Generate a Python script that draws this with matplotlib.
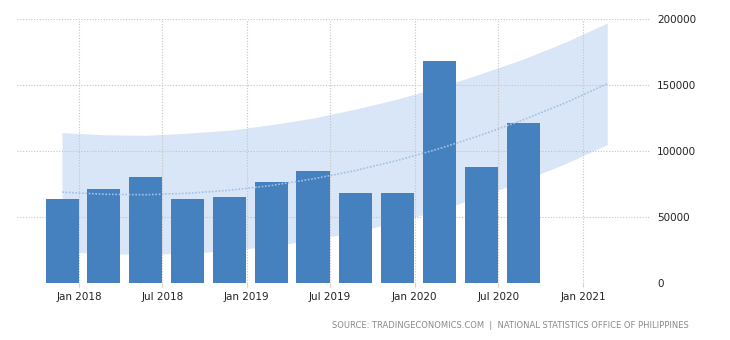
import numpy as np
import pandas as pd
import matplotlib
matplotlib.use('Agg')
import matplotlib.pyplot as plt
import matplotlib.dates as mdates

# quarterly values (quarter end dates)
quarters = ['2017-12-31', '2018-03-31', '2018-06-30', '2018-09-30',
            '2018-12-31', '2019-03-31', '2019-06-30', '2019-09-30',
            '2019-12-31', '2020-03-31', '2020-06-30', '2020-09-30']
values = [63800, 71400, 80400, 63800, 65300, 76700,
          85000, 68300, 68300, 168200, 88000, 121300]

# forecast band, one point per quarter Q4 2017 .. Q1 2021
band_quarters = quarters + ['2020-12-31', '2021-03-31']
band_mid = [69000, 67400, 67000, 68100, 70400, 74000, 79000,
            85300, 93000, 101900, 112200, 123800, 136700, 151000]
band_upper = [114000, 112400, 112000, 113600, 115900, 120000, 125000,
              131800, 139500, 148400, 158700, 169800, 182700, 197000]
band_lower = [24000, 22400, 22000, 22600, 24900, 28000, 33000,
              38800, 46500, 55400, 65700, 77800, 90700, 105000]

yticks = [0, 50000, 100000, 150000, 200000]
source = 'SOURCE: TRADINGECONOMICS.COM  |  NATIONAL STATISTICS OFFICE OF PHILIPPINES'

bar_color = '#4681bf'
band_color = '#d9e6f7'

fig = plt.figure(figsize=(7.3, 3.4), dpi=100)
ax = fig.add_axes([17 / 730, 1 - 283.3 / 340, (650 - 17) / 730, (283.3 - 19) / 340])

q_dates = pd.to_datetime(quarters)
bar_w = pd.Timedelta(days=72)
b_dates = pd.to_datetime(band_quarters) - bar_w / 2

ax.fill_between(b_dates, band_lower, band_upper, color=band_color, lw=0, zorder=1)
ax.bar(q_dates, values, width=-72, align='edge', color=bar_color, zorder=3)
ax.plot(b_dates, band_mid, color='#a4c0e6', lw=1.2, ls=(0, (1, 1)), zorder=4)

ax.set_ylim(0, 200000)
ax.set_xlim(pd.Timestamp('2017-08-19'), pd.Timestamp('2021-05-27'))
ax.set_yticks(yticks)
ax.yaxis.tick_right()
ax.set_yticklabels([str(v) for v in yticks])
ax.xaxis.set_major_locator(mdates.MonthLocator(bymonth=[1, 7]))
ax.xaxis.set_major_formatter(mdates.DateFormatter('%b %Y'))

ax.grid(True, color='#c4c4c4', ls=(0, (1, 1.5)), lw=0.8, zorder=2)
ax.set_axisbelow(False)
for sp in ax.spines.values():
    sp.set_visible(False)
ax.tick_params(axis='y', length=0, pad=5, labelsize=7.5, labelcolor='#222222')
ax.tick_params(axis='x', length=3, color='#d0d0d0', pad=3, labelsize=7.5, labelcolor='#222222')
for lbl in ax.get_yticklabels():
    lbl.set_horizontalalignment('left')

fig.text(689 / 730, 1 - 325 / 340, source, ha='right', va='center',
         fontsize=6, color='#8a8a8a')

fig.savefig('out.png', dpi=100)
